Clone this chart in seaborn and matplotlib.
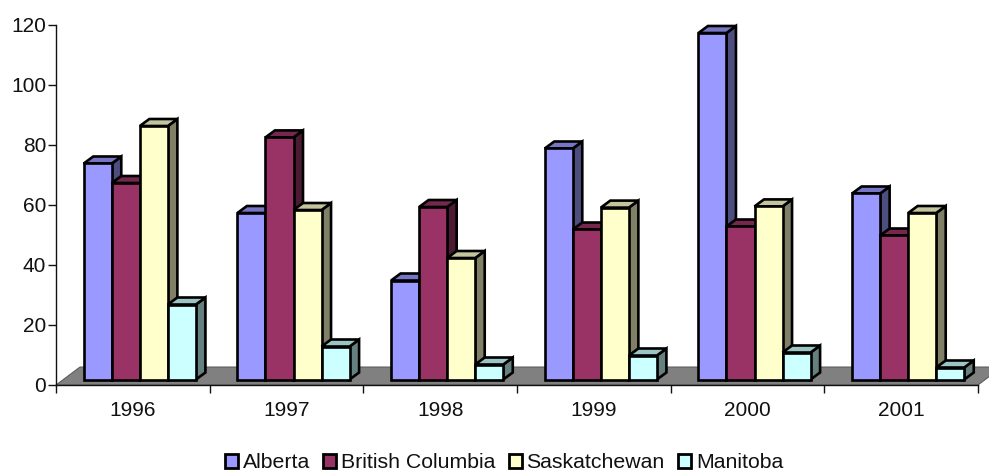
import matplotlib
matplotlib.use("Agg")
import matplotlib.pyplot as plt
from matplotlib.patches import Patch, Polygon
from matplotlib.transforms import Affine2D, IdentityTransform
import numpy as np
import pandas as pd
import seaborn as sns

years = ["1996", "1997", "1998", "1999", "2000", "2001"]
alberta = [72, 55.5, 33, 77, 115.5, 62]
british_columbia = [65.5, 80.7, 57.5, 50, 51, 48]
saskatchewan = [84.5, 56.5, 40.5, 57.3, 57.7, 55.5]
manitoba = [25, 11, 5, 8, 9, 4]

provinces = ["Alberta", "British Columbia", "Saskatchewan", "Manitoba"]
front_colors = ["#9999FF", "#993366", "#FFFFCC", "#CCFFFF"]

sns.set_theme(style="white")
plt.rcParams["font.family"] = ["Liberation Sans", "DejaVu Sans"]

W, H = 989, 474
DPI = 100
fig = plt.figure(figsize=(W / DPI, H / DPI), dpi=DPI, facecolor="white")

# Plot box in pixels: the value axis runs from y=385 up to y=25
left, right, top, bottom = 56, 978, 25, 385
ax = fig.add_axes([left / W, (H - bottom) / H, (right - left) / W, (bottom - top) / H])

table = pd.DataFrame({
    "year": years * 4,
    "province": np.repeat(provinces, len(years)),
    "value": alberta + british_columbia + saskatchewan + manitoba,
})

sns.barplot(
    data=table, x="year", y="value", hue="province", hue_order=provinces,
    order=years, palette=front_colors, saturation=1, width=0.73, gap=0,
    dodge=True, legend=False, edgecolor="black", linewidth=1.9, ax=ax,
)
ax.set_xlim(-0.5, 5.5)
ax.set_ylim(0, 120)
ax.set_yticks(range(0, 121, 20))
ax.set_xticks(np.arange(-0.5, 6), labels=[])
ax.set_xlabel("")
ax.set_ylabel("")
ax.set_facecolor("none")
for name in ("top", "right"):
    ax.spines[name].set_visible(False)
for name in ("left", "bottom"):
    ax.spines[name].set_linewidth(1.0)
    ax.spines[name].set_color("#111111")
    ax.spines[name].set_zorder(2)
ax.tick_params(axis="both", which="major", direction="out", length=5.5, width=1.0,
               color="#111111", labelsize=15, labelcolor="#111111",
               left=True, bottom=True, pad=1.5)
for i, label in enumerate(years):
    ax.text(i, -5.2, label, ha="center", va="top", fontsize=15, color="#111111")

# Box depth in pixels, and the shift of the front faces into the floor
depth_x, depth_y = 9.5, 7.0
floor_x, floor_y = 24.0, 18.0
shift_x, shift_y = 7.0, 5.5


def scaled(color, factor):
    rgb = np.array(matplotlib.colors.to_rgb(color))
    return tuple(rgb * factor)


# Grey floor of the 3-D box, clipped only by the canvas edge
floor_pts = [(left, H - bottom), (right, H - bottom),
             (right + floor_x, H - bottom + floor_y), (left + floor_x, H - bottom + floor_y)]
fig_floor = Polygon(floor_pts, closed=True, facecolor="#808080", edgecolor="#555555",
                    linewidth=0.7, transform=IdentityTransform(), zorder=1, clip_on=False)
ax.add_artist(fig_floor)

# Painter's order: left to right, so each bar hides the previous bar's side
for hue_index, container in enumerate(ax.containers):
    color = front_colors[hue_index]
    for year_index, bar in enumerate(container.patches):
        order = 5 + (year_index * 4 + hue_index) * 2
        x0, x1 = bar.get_x(), bar.get_x() + bar.get_width()
        h = bar.get_height()
        (px0, py0), (px1, py1) = ax.transData.transform([(x0, 0), (x1, h)])
        px0 += shift_x
        px1 += shift_x
        py0 += shift_y
        py1 += shift_y
        side = [(px1, py0), (px1 + depth_x, py0 + depth_y),
                (px1 + depth_x, py1 + depth_y), (px1, py1)]
        roof = [(px0, py1), (px0 + depth_x, py1 + depth_y),
                (px1 + depth_x, py1 + depth_y), (px1, py1)]
        for pts, factor in ((side, 0.5), (roof, 0.77)):
            ax.add_artist(Polygon(pts, closed=True, facecolor=scaled(color, factor),
                                  edgecolor="black", linewidth=1.9, joinstyle="miter",
                                  transform=IdentityTransform(), zorder=order, clip_on=False))
        bar.set_transform(ax.transData + Affine2D().translate(shift_x, shift_y))
        bar.set_zorder(order + 1)
        bar.set_clip_on(False)
        bar.set_joinstyle("miter")

handles = [Patch(facecolor=c, edgecolor="black", linewidth=2.0) for c in front_colors]
fig.legend(handles, provinces, loc="center", bbox_to_anchor=(504 / W, (H - 463) / H),
           ncol=4, frameon=False, fontsize=15.3, handlelength=0.62, handleheight=0.62,
           handletextpad=0.22, columnspacing=0.62, borderpad=0, borderaxespad=0,
           labelcolor="#111111")

fig.savefig("out.png", dpi=DPI, facecolor="white")
